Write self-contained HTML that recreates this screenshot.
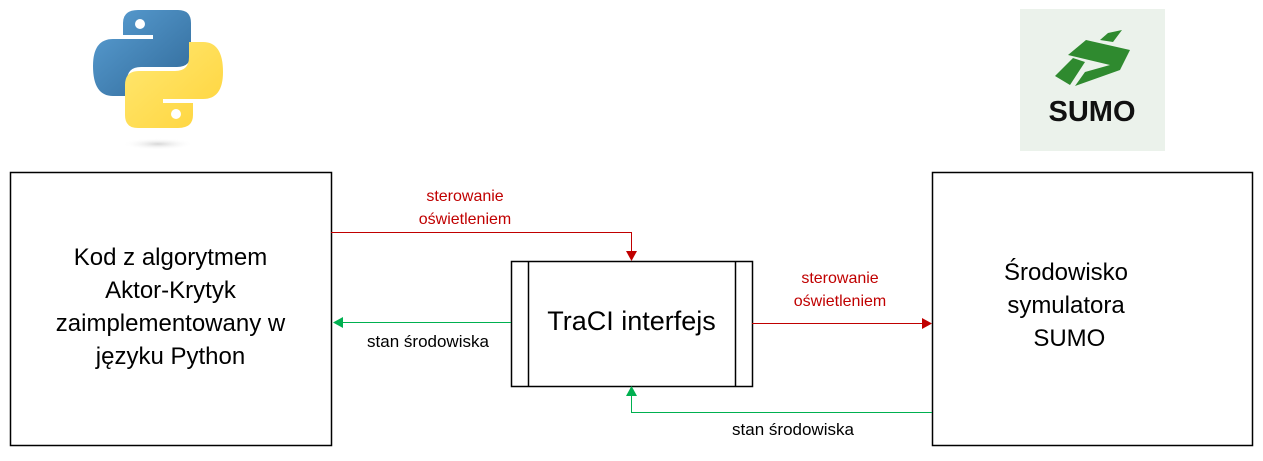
<!DOCTYPE html>
<html><head><meta charset="utf-8"><style>
body{margin:0;width:1263px;height:461px;background:#fff;overflow:hidden;font-family:"Liberation Sans",sans-serif;}
div{white-space:nowrap}
</style></head><body>
<svg width="1263" height="461" xmlns="http://www.w3.org/2000/svg" style="position:absolute;left:0;top:0">
<defs>
<linearGradient id="pb" x1="0" y1="0" x2="1" y2="1"><stop offset="0" stop-color="#5a9fd4"/><stop offset="1" stop-color="#306998"/></linearGradient>
<linearGradient id="py" x1="0" y1="0" x2="1" y2="1"><stop offset="0" stop-color="#ffe873"/><stop offset="1" stop-color="#ffd43b"/></linearGradient>
<radialGradient id="sh"><stop offset="0" stop-color="#bbb" stop-opacity=".6"/><stop offset="1" stop-color="#fff" stop-opacity="0"/></radialGradient>
</defs>
<ellipse cx="158" cy="144" rx="36" ry="6" fill="url(#sh)"/>
<path d="M138 10 h40 q13 0 13 13 v30 q0 14 -14 14 h-36 q-14 0 -14 14 v15 h-14 q-20 0 -20 -30 q0 -27 20 -27 h40 v-4 h-30 v-12 q0 -13 15 -13z" fill="url(#pb)"/>
<circle cx="140" cy="24" r="5" fill="#fff"/>
<path d="M178 128 h-40 q-13 0 -13 -13 v-30 q0 -14 14 -14 h36 q14 0 14 -14 v-15 h14 q20 0 20 30 q0 27 -20 27 h-40 v4 h30 v12 q0 13 -15 13z" fill="url(#py)"/>
<circle cx="176" cy="114" r="5" fill="#fff"/>
<rect x="1020" y="9" width="145" height="142" fill="#ebf2eb"/>
<polygon points="1108,33 1122,30 1113,42 1100,40" fill="#2f8a2f"/>
<polygon points="1086,40 1130,50 1120,70 1075,86 1085,72 1110,65 1068,55" fill="#2f8a2f"/>
<polygon points="1073,58 1085,62 1070,85 1055,76" fill="#2f8a2f"/>
<text x="1092" y="121" font-size="29" font-weight="bold" font-family="Liberation Sans" text-anchor="middle" fill="#111">SUMO</text>
<rect x="10.5" y="172.5" width="321" height="273" fill="#fff" stroke="#000" stroke-width="1.5"/>
<rect x="932.5" y="172.5" width="320" height="273" fill="#fff" stroke="#000" stroke-width="1.5"/>
<rect x="511.5" y="261.5" width="241" height="125" fill="#fff" stroke="#000" stroke-width="1.5"/>
<line x1="528.5" y1="261" x2="528.5" y2="386" stroke="#000" stroke-width="1.5"/>
<line x1="735.5" y1="261" x2="735.5" y2="386" stroke="#000" stroke-width="1.5"/>
<polyline points="331,232.5 631.5,232.5 631.5,252" fill="none" stroke="#c00000" stroke-width="1"/>
<polygon points="626,251 637,251 631.5,261" fill="#c00000"/>
<line x1="752" y1="323.5" x2="923" y2="323.5" stroke="#c00000"/>
<polygon points="922,318 932,323.5 922,329" fill="#c00000"/>
<line x1="511" y1="322.5" x2="342" y2="322.5" stroke="#00b050"/>
<polygon points="343,317 333,322.5 343,328" fill="#00b050"/>
<polyline points="932,412.5 631.5,412.5 631.5,395" fill="none" stroke="#00b050"/>
<polygon points="626,396 637,396 631.5,386" fill="#00b050"/>
</svg>
<div style="position:absolute;left:10px;top:241px;width:321px;text-align:center;font-size:24px;line-height:33px">Kod z algorytmem<br>Aktor-Krytyk<br>zaimplementowany w<br>języku Python</div>
<div style="position:absolute;left:966px;top:256px;width:200px;text-align:center;font-size:24px;line-height:33px">Środowisko<br>symulatora<br>&nbsp;SUMO</div>
<div style="position:absolute;left:511px;top:306px;width:241px;text-align:center;font-size:27px">TraCI interfejs</div>
<div style="position:absolute;left:380px;top:185px;width:170px;text-align:center;font-size:16px;line-height:23px;color:#c00000">sterowanie<br>oświetleniem</div>
<div style="position:absolute;left:755px;top:267px;width:170px;text-align:center;font-size:16px;line-height:23px;color:#c00000">sterowanie<br>oświetleniem</div>
<div style="position:absolute;left:348px;top:332px;width:160px;text-align:center;font-size:17px">stan środowiska</div>
<div style="position:absolute;left:713px;top:420px;width:160px;text-align:center;font-size:17px">stan środowiska</div>
</body></html>
